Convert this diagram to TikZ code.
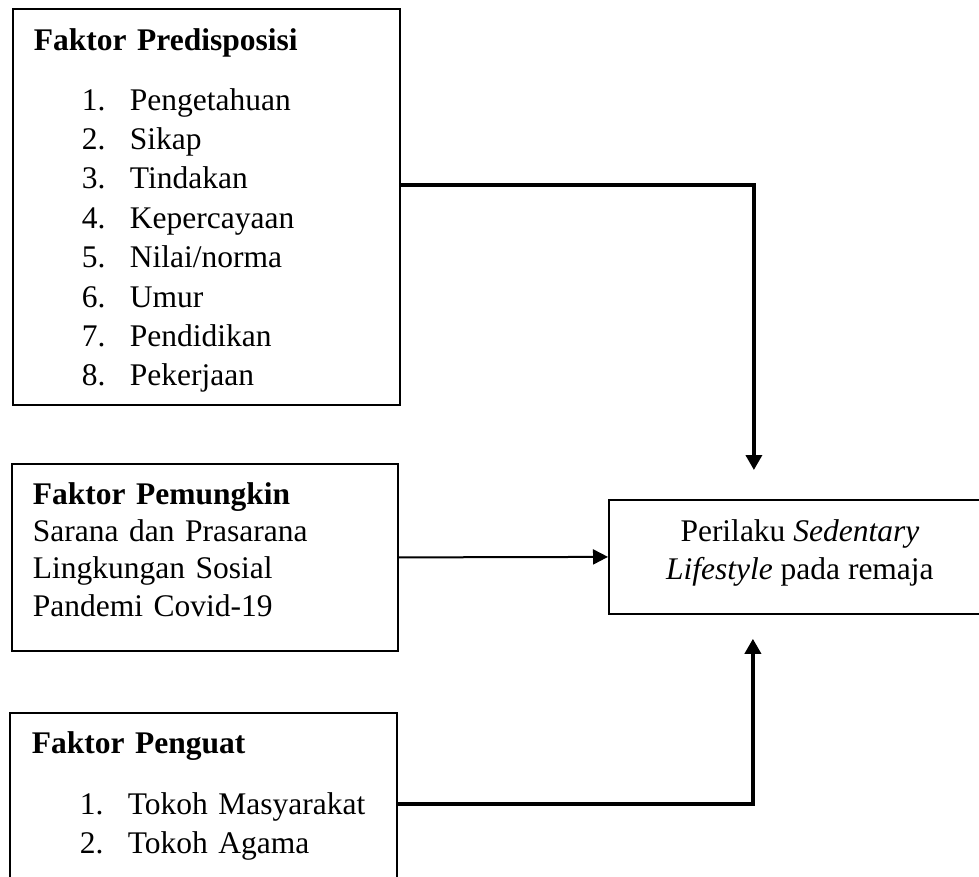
\documentclass[tikz,border=0pt]{standalone}
\usepackage{fontspec}
\setmainfont{Liberation Serif}
\usetikzlibrary{arrows.meta}

\newcommand{\nomor}[1]{\hspace*{48pt}\makebox[48pt][l]{#1}}

\begin{document}
\begin{tikzpicture}[x=1pt, y=-1pt,
    faktor/.style={rectangle, draw, line width=1.8pt, anchor=north west, align=left, inner xsep=21pt, inner ysep=0pt, font=\fontsize{31.5}{39.4}\selectfont},
    hasil/.style={rectangle, draw, line width=1.8pt, anchor=north west, align=center, inner ysep=0pt, font=\fontsize{31.5}{38}\selectfont},
    panah/.style={-{Triangle[length=15pt,width=16pt]}, line width=3.5pt},
    panahtipis/.style={-{Triangle[length=15pt,width=15pt]}, line width=2pt}]

    \useasboundingbox (0,0) rectangle (979,877);
    \clip (0,0) rectangle (979,877);

    \node[faktor, text width=345pt, minimum width=387pt, minimum height=396pt] (predisposisi) at (12,8)
        {\rule{0pt}{29pt}\textbf{Faktor Predisposisi}\\[20.6pt]
         \nomor{1.}Pengetahuan\\
         \nomor{2.}Sikap\\
         \nomor{3.}Tindakan\\
         \nomor{4.}Kepercayaan\\
         \nomor{5.}Nilai/norma\\
         \nomor{6.}Umur\\
         \nomor{7.}Pendidikan\\
         \nomor{8.}Pekerjaan};
    \node[faktor, text width=344pt, minimum width=386pt, minimum height=187pt, font=\fontsize{31.5}{37.3}\selectfont] (pemungkin) at (11,463)
        {\textbf{Faktor Pemungkin}\\
         Sarana dan Prasarana\\
         Lingkungan Sosial\\
         Pandemi Covid-19\rule[-16pt]{0pt}{0pt}};
    \node[faktor, inner xsep=22pt, text width=343pt, minimum width=387pt, minimum height=170pt] (penguat) at (9,712)
        {\textbf{Faktor Penguat}\\[21.6pt]
         \nomor{1.}Tokoh Masyarakat\\
         \nomor{2.}Tokoh Agama\rule[-11pt]{0pt}{0pt}};
    \node[hasil, minimum width=382pt, minimum height=114pt] (perilaku) at (608,499)
        {Perilaku \textit{Sedentary}\\
         \textit{Lifestyle} pada remaja\rule[-15.5pt]{0pt}{0pt}};

    \draw[panah] ([yshift=22pt]predisposisi.east) -| ([xshift=-46pt, yshift=29pt]perilaku.north);
    \draw[panahtipis] (pemungkin.east) -- (perilaku.west);
    \draw[panah] ([yshift=-6pt]penguat.east) -| ([xshift=-47pt, yshift=-24pt]perilaku.south);
\end{tikzpicture}
\end{document}
